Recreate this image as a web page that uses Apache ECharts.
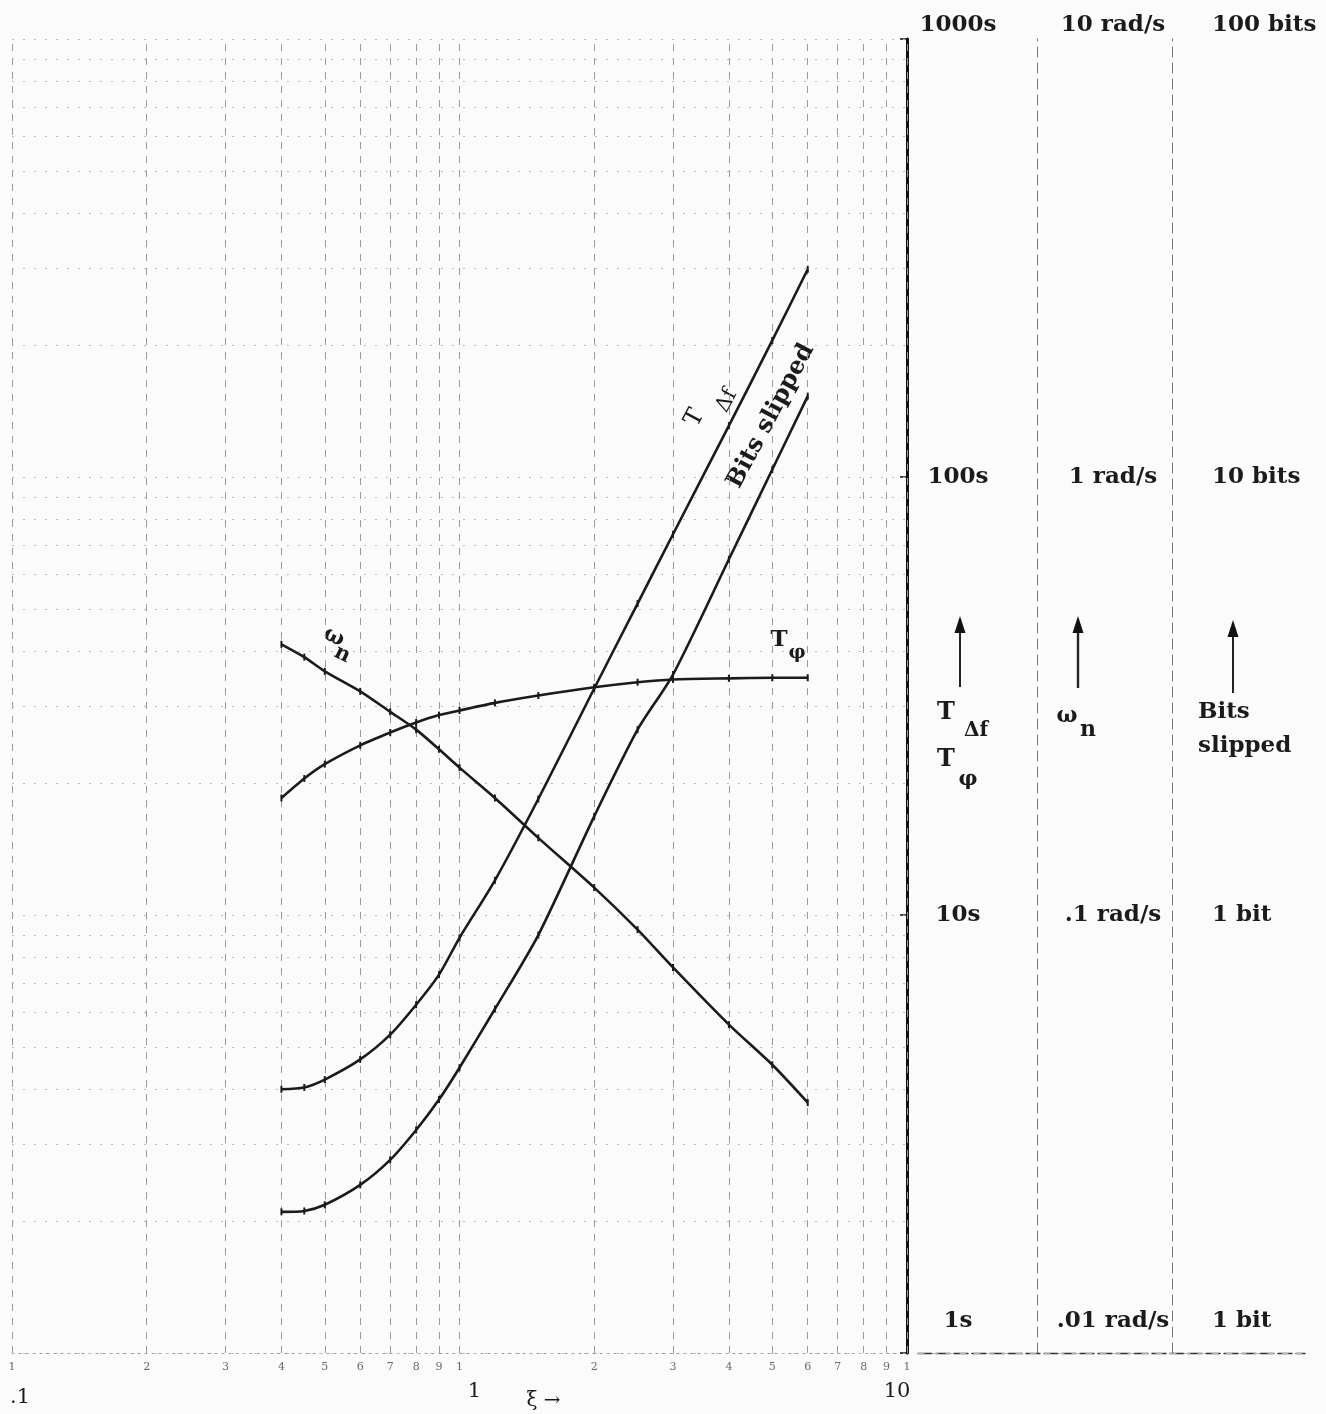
<!DOCTYPE html>
<html>
<head>
<meta charset="utf-8">
<script src="https://cdn.jsdelivr.net/npm/echarts@6/dist/echarts.min.js"></script>
<style>
html,body{margin:0;padding:0;background:#fbfbfb;}
#c{width:1326px;height:1414px;}
</style>
</head>
<body>
<div id="c"></div>
<script>
// ---- data ----
const xi        = [0.4, 0.45, 0.5, 0.6, 0.7, 0.8, 0.9, 1.0, 1.2, 1.5, 2, 2.5, 3, 4, 5, 6];
const tDeltaF   = [4.0, 4.04, 4.21, 4.68, 5.33, 6.24, 7.31, 8.87, 12.0, 18.4, 32.9, 51.4, 74, 131, 205, 298];      // s
const tPhi      = [18.5, 20.5, 22.1, 24.4, 26.1, 27.5, 28.6, 29.3, 30.5, 31.7, 33.1, 34.0, 34.5, 34.7, 34.8, 34.8]; // s
const omegaN    = [0.415, 0.388, 0.360, 0.324, 0.291, 0.265, 0.239, 0.217, 0.185, 0.150, 0.1155, 0.0926, 0.0759, 0.0562, 0.0455, 0.0373]; // rad/s
const bitsSlip  = [0.210, 0.211, 0.218, 0.242, 0.276, 0.323, 0.379, 0.448, 0.61, 0.90, 1.68, 2.65, 3.54, 6.49, 10.4, 15.3]; // bits

const xMajorLabels = ['.1', '1', '10'];
const xMinorTicks  = [0.1,0.2,0.3,0.4,0.5,0.6,0.7,0.8,0.9,1,2,3,4,5,6,7,8,9,10];
const xMinorLabels = ['1','2','3','4','5','6','7','8','9','1','2','3','4','5','6','7','8','9','1'];
const yGridVals    = [1,2,3,4,5,6,7,8,9,10,20,30,40,50,60,70,80,90,100,200,300,400,500,600,700,800,900,1000];
const tLabels      = ['1s', '10s', '100s', '1000s'];
const wLabels      = ['.01 rad/s', '.1 rad/s', '1 rad/s', '10 rad/s'];
const bLabels      = ['1 bit', '1 bit', '10 bits', '100 bits'];

const SERIF = '"DejaVu Serif", "Liberation Serif", serif';
const INK = '#1b1b1b';

function yLabelFmt(labels, min) {
  return function (v) {
    const i = Math.round(Math.log10(v / min));
    const t = labels[i];
    if (t === undefined) return '';
    if (i === labels.length - 1) return '{l|' + t + '}\n{top| }';
    if (i === 0) return '{l|' + t + '}\n{bot| }';
    return '{l|' + t + '}';
  };
}
const yRich = {
  l: {fontFamily: SERIF, fontSize: 23, fontWeight: 'bold', color: INK, lineHeight: 28},
  top: {fontSize: 2, lineHeight: 28},
  bot: {fontSize: 2, lineHeight: 64}
};

const chart = echarts.init(document.getElementById('c'), null, {renderer: 'canvas'});

const curveStyle = (name, yIdx, vals) => ({
  name: name, type: 'line', xAxisIndex: 0, yAxisIndex: yIdx,
  data: xi.map((x, i) => [x, vals[i]]),
  smooth: 0.25,
  symbol: 'rect', symbolSize: [2, 7], showSymbol: true,
  itemStyle: {color: INK},
  lineStyle: {color: INK, width: 2.6, join: 'round'},
  z: 5, silent: true
});

const option = {
  backgroundColor: '#fbfbfb',
  animation: false,
  grid: [
    {left: 12, right: 419, top: 39, bottom: 61, outerBoundsMode: 'none', containLabel: false},
    {left: 918, right: 21, top: 39, bottom: 61, outerBoundsMode: 'none', containLabel: false}
  ],
  xAxis: [
    {
      type: 'log', logBase: 10, min: 0.1, max: 10, gridIndex: 0, position: 'bottom',
      axisLine: {show: true, lineStyle: {color: '#999', width: 1, type: [2, 5]}},
      axisTick: {show: false},
      splitLine: {show: false},
      axisLabel: {
        margin: 28,
        formatter: function (v) {
          const i = Math.round(Math.log10(v / 0.1));
          return ['{a|', '{b|', '{c|'][i] + xMajorLabels[i] + '}';
        },
        rich: {
          a: {fontFamily: SERIF, fontSize: 21, color: INK, padding: [6, 0, 0, 16]},
          b: {fontFamily: SERIF, fontSize: 21, color: INK, padding: [0, 0, 0, 30]},
          c: {fontFamily: SERIF, fontSize: 21, color: INK, padding: [0, 20, 4, 0]}
        }
      },
      name: 'ξ →', nameLocation: 'middle', nameGap: 38, nameMoveOverlap: false,
      nameTextStyle: {fontFamily: SERIF, fontSize: 20, color: INK, padding: [0, 0, 0, 168]}
    },
    {
      type: 'value', gridIndex: 1, position: 'top', min: 0, max: 1,
      axisLine: {show: true, lineStyle: {color: '#333', width: 1.4, type: [14, 4]}},
      axisTick: {show: false}, axisLabel: {show: false}, splitLine: {show: false}
    },
    {
      type: 'value', gridIndex: 1, position: 'bottom', min: 0, max: 1,
      axisLine: {show: true, lineStyle: {color: '#b0b0b0', width: 1, type: [6, 8]}},
      axisTick: {show: false}, axisLabel: {show: false}, splitLine: {show: false}
    }
  ],
  yAxis: [
    {
      type: 'log', logBase: 10, min: 1, max: 1000, gridIndex: 0, position: 'right', offset: 0,
      axisLine: {show: true, lineStyle: {color: '#111', width: 3}},
      axisTick: {show: true, inside: true, length: 7, lineStyle: {color: '#111', width: 1.5}},
      splitLine: {show: false},
      axisLabel: {margin: 51, align: 'center', formatter: yLabelFmt(tLabels, 1), rich: yRich}
    },
    {
      type: 'log', logBase: 10, min: 0.01, max: 10, gridIndex: 0, position: 'right', offset: 130,
      axisLine: {show: true, lineStyle: {color: '#777', width: 1, type: [10, 6]}},
      axisTick: {show: false},
      splitLine: {show: false},
      axisLabel: {margin: 76, align: 'center', formatter: yLabelFmt(wLabels, 0.01), rich: yRich}
    },
    {
      type: 'log', logBase: 10, min: 0.1, max: 100, gridIndex: 0, position: 'right', offset: 265,
      axisLine: {show: true, lineStyle: {color: '#777', width: 1, type: [10, 6]}},
      axisTick: {show: false},
      splitLine: {show: false},
      axisLabel: {margin: 40, align: 'left', formatter: yLabelFmt(bLabels, 0.1), rich: yRich}
    },
    {type: 'value', gridIndex: 1, show: false, min: 0, max: 1}
  ],
  series: [
    { // vertical log-paper lines
      type: 'line', xAxisIndex: 0, yAxisIndex: 0, data: [[1, 1]], symbol: 'none',
      lineStyle: {width: 0, opacity: 0}, silent: true, z: 1,
      markLine: {
        silent: true, symbol: ['none', 'none'], label: {show: false}, animation: false,
        lineStyle: {color: '#999', width: 1, type: [7, 7]},
        emphasis: {disabled: true},
        data: xMinorTicks.map(v => ({xAxis: v}))
      }
    },
    { // horizontal log-paper lines
      type: 'line', xAxisIndex: 0, yAxisIndex: 0, data: [[1, 1]], symbol: 'none',
      lineStyle: {width: 0, opacity: 0}, silent: true, z: 1,
      markLine: {
        silent: true, symbol: ['none', 'none'], label: {show: false}, animation: false,
        lineStyle: {color: '#bbb', width: 1, type: [2, 9]},
        emphasis: {disabled: true},
        data: yGridVals.map(v => ({yAxis: v}))
      }
    },
    { // small digit tick labels under the ξ axis
      type: 'scatter', xAxisIndex: 0, yAxisIndex: 0, symbolSize: 0, silent: true, z: 2,
      data: xMinorTicks.map((v, i) => ({value: [v, 1], label: {formatter: xMinorLabels[i]}})),
      label: {show: true, position: 'bottom', distance: 9, fontFamily: SERIF, fontSize: 11, color: '#444'}
    },
    curveStyle('T_Δf', 0, tDeltaF),
    curveStyle('T_φ', 0, tPhi),
    curveStyle('ω_n', 1, omegaN),
    curveStyle('Bits slipped', 2, bitsSlip)
  ],
  graphic: [
    // arrows in the right panel
    {type: 'line', shape: {x1: 960, y1: 687, x2: 960, y2: 628}, style: {stroke: '#222', lineWidth: 2}},
    {type: 'polygon', shape: {points: [[960, 616], [954.5, 633], [965.5, 633]]}, style: {fill: '#111'}},
    {type: 'line', shape: {x1: 1078, y1: 688, x2: 1078, y2: 628}, style: {stroke: '#222', lineWidth: 2.4}},
    {type: 'polygon', shape: {points: [[1078, 616], [1072.5, 633], [1083.5, 633]]}, style: {fill: '#111'}},
    {type: 'line', shape: {x1: 1233, y1: 693, x2: 1233, y2: 632}, style: {stroke: '#222', lineWidth: 2}},
    {type: 'polygon', shape: {points: [[1233, 620], [1227.5, 637], [1238.5, 637]]}, style: {fill: '#111'}},
    // right-panel legend texts
    {type: 'text', x: 946, y: 713, style: {text: 'T', font: 'bold 24px ' + SERIF, fill: INK, align: 'center', verticalAlign: 'middle'}},
    {type: 'text', x: 976, y: 731, style: {text: 'Δf', font: 'bold 20px ' + SERIF, fill: INK, align: 'center', verticalAlign: 'middle'}},
    {type: 'text', x: 946, y: 760, style: {text: 'T', font: 'bold 24px ' + SERIF, fill: INK, align: 'center', verticalAlign: 'middle'}},
    {type: 'text', x: 968, y: 780, style: {text: 'φ', font: 'bold 21px ' + SERIF, fill: INK, align: 'center', verticalAlign: 'middle'}},
    {type: 'text', x: 1067, y: 716, style: {text: 'ω', font: 'bold 22px ' + SERIF, fill: INK, align: 'center', verticalAlign: 'middle'}},
    {type: 'text', x: 1088, y: 730, style: {text: 'n', font: 'bold 22px ' + SERIF, fill: INK, align: 'center', verticalAlign: 'middle'}},
    {type: 'text', x: 1198, y: 712, style: {text: 'Bits', font: 'bold 23px ' + SERIF, fill: INK, align: 'left', verticalAlign: 'middle'}},
    {type: 'text', x: 1198, y: 746, style: {text: 'slipped', font: 'bold 23px ' + SERIF, fill: INK, align: 'left', verticalAlign: 'middle'}},
    // curve labels
    {type: 'group', x: 334, y: 637, rotation: -0.45, children: [
      {type: 'text', x: 0, y: 0, style: {text: 'ω', font: 'bold 22px ' + SERIF, fill: INK, align: 'center', verticalAlign: 'middle'}},
      {type: 'text', x: 15, y: 12, style: {text: 'n', font: 'bold 21px ' + SERIF, fill: INK, align: 'center', verticalAlign: 'middle'}}
    ]},
    {type: 'text', x: 779, y: 640, style: {text: 'T', font: 'bold 23px ' + SERIF, fill: INK, align: 'center', verticalAlign: 'middle'}},
    {type: 'text', x: 797, y: 653, style: {text: 'φ', font: 'bold 19px ' + SERIF, fill: INK, align: 'center', verticalAlign: 'middle'}},
    {type: 'group', x: 695, y: 418, rotation: 1.082, children: [
      {type: 'text', x: 0, y: 0, style: {text: 'T', font: '24px ' + SERIF, fill: INK, align: 'center', verticalAlign: 'middle'}},
      {type: 'text', x: 30, y: 20, style: {text: 'Δf', font: '21px ' + SERIF, fill: INK, align: 'center', verticalAlign: 'middle'}}
    ]},
    {type: 'group', x: 771, y: 416, rotation: 1.082, children: [
      {type: 'text', x: 0, y: 0, style: {text: 'Bits slipped', font: 'bold 24px ' + SERIF, fill: INK, align: 'center', verticalAlign: 'middle'}}
    ]}
  ]
};
chart.setOption(option);
</script>
</body>
</html>
